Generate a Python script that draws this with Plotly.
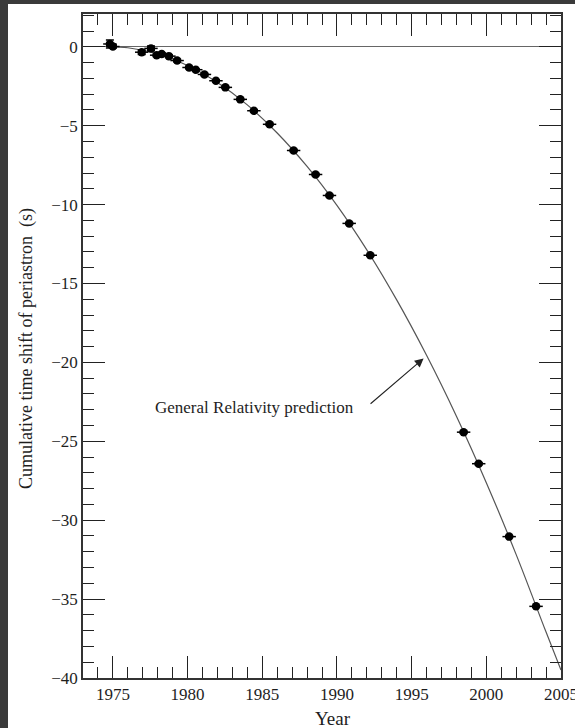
import plotly.graph_objects as go

# Observed data points (year, cumulative shift in s)
obs_year = [1974.8, 1975.0, 1976.93, 1977.55, 1977.93, 1978.27, 1978.75, 1979.3,
            1980.1, 1980.55, 1981.13, 1981.9, 1982.53, 1983.53, 1984.44, 1985.49,
            1987.1, 1988.57, 1989.5, 1990.82, 1992.23, 1998.48, 1999.49, 2001.53, 2003.33]
obs_shift = [0.18, 0.02, -0.34, -0.1, -0.53, -0.46, -0.59, -0.87,
             -1.31, -1.45, -1.75, -2.15, -2.57, -3.33, -4.05, -4.91,
             -6.57, -8.09, -9.42, -11.19, -13.21, -24.42, -26.42, -31.04, -35.46]
obs_err = [0.26, 0.1, 0.14, 0.15, 0.08, 0.08, 0.08, 0.08,
           0.06, 0.06, 0.06, 0.06, 0.06, 0.06, 0.06, 0.06,
           0.06, 0.06, 0.06, 0.06, 0.06, 0.06, 0.06, 0.06, 0.06]

# General Relativity prediction curve
gr_year = [1974.8, 1976, 1978, 1980, 1982, 1984, 1986, 1988, 1990, 1992,
           1994, 1996, 1998, 2000, 2002, 2004, 2005]
gr_shift = [0.0, -0.06, -0.45, -1.18, -2.26, -3.68, -5.46, -7.58, -10.05, -12.87,
            -16.04, -19.55, -23.41, -27.62, -32.18, -37.09, -39.5]

x_ticks = [1975, 1980, 1985, 1990, 1995, 2000, 2005]
y_ticks = [0, -5, -10, -15, -20, -25, -30, -35, -40]
y_ticktext = ["0", "\u22125", "\u221210", "\u221215", "\u221220", "\u221225", "\u221230", "\u221235", "\u221240"]

FONT = "Liberation Serif, Times New Roman, serif"
INK = "#1e1e1e"
DARK = "#3a3a3a"

fig = go.Figure()
fig.add_trace(go.Scatter(x=gr_year, y=gr_shift, mode="lines",
                         line=dict(color="#555555", width=1.2, shape="spline"),
                         hoverinfo="skip", showlegend=False))
fig.add_trace(go.Scatter(x=obs_year, y=obs_shift, mode="markers",
                         marker=dict(color="black", size=8.5),
                         error_y=dict(type="data", array=obs_err, color="black", thickness=1.5, width=4),
                         error_x=dict(type="constant", value=0.45, color="black", thickness=1.5, width=0),
                         showlegend=False))

# page is 575x728; the figure sits at offset (8, 4) on a dark page background
OX, OY = 8, 4
W, H = 575 - OX, 728 - OY
ml, mr, mt, mb = 83 - OX, 14, 14 - OY, 50
pw, ph = W - ml - mr, H - mt - mb

def px_x(p):  # page pixel -> paper coordinate
    return (p - OX - ml) / pw

def px_y(p):
    return (H - mb - (p - OY)) / ph

axis_common = dict(showgrid=False, showline=True, linecolor="#333333", linewidth=1.5,
                   mirror="ticks", ticks="inside", ticklen=22, tickwidth=1.2, tickcolor="#222222",
                   automargin=False, ticklabeloverflow="allow",
                   tickfont=dict(family=FONT, size=17, color=INK))

fig.update_xaxes(range=[1973, 2005], tickvals=x_ticks, ticktext=[str(v) for v in x_ticks],
                 minor=dict(ticks="inside", ticklen=11, dtick=1, tick0=1973, tickcolor="#222222", tickwidth=1.2),
                 zeroline=False, **axis_common)
fig.update_yaxes(range=[-40, 2.08], tickvals=y_ticks, ticktext=y_ticktext,
                 minor=dict(ticks="inside", ticklen=11, dtick=1, tick0=0, tickcolor="#222222", tickwidth=1.2),
                 zeroline=True, zerolinecolor="#666666", zerolinewidth=1.2, **axis_common)

fig.update_layout(
    width=W, height=H, margin=dict(l=ml, r=mr, t=mt, b=mb, autoexpand=False),
    paper_bgcolor="white", plot_bgcolor="white",
    annotations=[
        dict(x=1995.8, y=-19.75, ax=1992.15, ay=-22.7, xref="x", yref="y", axref="x", ayref="y",
             text="", showarrow=True, arrowhead=2, arrowsize=1.6, arrowwidth=1.1, arrowcolor="#222222"),
        dict(x=1984.45, y=-22.85, xref="x", yref="y", text="General Relativity prediction",
             xanchor="center", yanchor="middle",
             showarrow=False, font=dict(family=FONT, size=17, color=INK)),
        dict(x=px_x(333), y=px_y(718), xref="paper", yref="paper", text="Year", showarrow=False,
             xanchor="center", yanchor="middle",
             font=dict(family=FONT, size=19, color=INK)),
        dict(x=px_x(26), y=px_y(349), xref="paper", yref="paper", text="Cumulative time shift of periastron  (s)",
             xanchor="center", yanchor="middle",
             textangle=-90, showarrow=False, font=dict(family=FONT, size=18, color=INK)),
    ],
)

post = ("document.body.style.margin='0';"
        "document.body.style.overflow='hidden';"
        "document.documentElement.style.background='%s';"
        "document.body.style.background='%s';"
        "var d=document.getElementById('{plot_id}');"
        "d.style.marginLeft='%dpx';d.style.paddingTop='%dpx';"
        "d.parentElement.style.paddingTop='%dpx';" % (DARK, DARK, OX, 0, OY))

fig.write_html("out.html", config={"displayModeBar": False}, post_script=post)
